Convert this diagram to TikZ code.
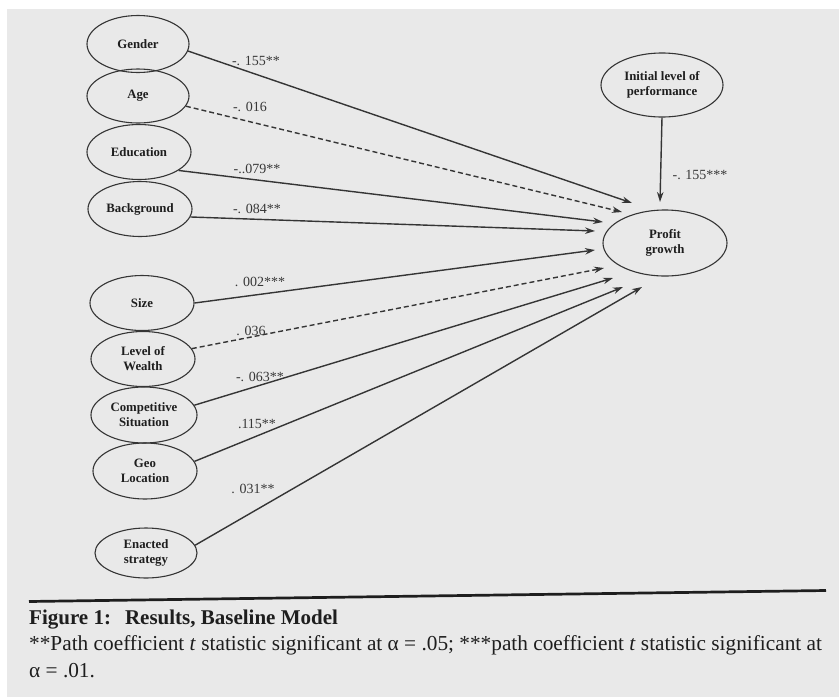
\documentclass[tikz,border=0pt]{standalone}
\usepackage{fontspec}
\setmainfont{Liberation Serif}
\usetikzlibrary{shapes.geometric,arrows.meta}
\definecolor{bgc}{HTML}{E9E9E9}
\definecolor{linec}{HTML}{353535}
\definecolor{txtc}{HTML}{1E1E1E}
\definecolor{labc}{HTML}{383838}
\begin{document}
\begin{tikzpicture}[x=1pt,y=-1pt,
  var/.style={ellipse, draw=linec, line width=1.1pt, inner sep=0pt,
    font=\fontsize{12.8}{15}\selectfont\bfseries, align=center, text=txtc},
  lab/.style={font=\fontsize{14}{16}\selectfont, text=labc, inner sep=0pt},
  pathe/.style={draw=linec, line width=1.4pt, -{Stealth[length=10pt,width=6.5pt]}},
  nse/.style={pathe, dash pattern=on 5pt off 3pt},
  capline/.style={anchor=base west, inner sep=0pt, text=txtc}]
\fill[white] (0,0) rectangle (839,697);
\fill[bgc] (7,9) rectangle (839,697);
\useasboundingbox (0,0) rectangle (839,697);

% left variables
\node[var, minimum width=102pt, minimum height=57pt] (gender) at (138,44) {Gender};
\node[var, minimum width=102pt, minimum height=54pt] (age) at (138,96) {Age};
\node[var, minimum width=104pt, minimum height=55pt] (edu) at (139,152) {Education};
\node[var, minimum width=104pt, minimum height=55pt] (back) at (140,209) {Background};
\node[var, minimum width=104pt, minimum height=55pt] (size) at (142,303) {Size};
\node[var, minimum width=104pt, minimum height=55pt] (wealth) at (143,359) {Level of\\Wealth};
\node[var, minimum width=106pt, minimum height=56pt] (comp) at (144,415) {Competitive\\Situation};
\node[var, minimum width=104pt, minimum height=56pt] (geo) at (145,471) {Geo\\Location};
\node[var, minimum width=102pt, minimum height=50pt] (enact) at (146,553) {Enacted\\strategy};

% right variables
\node[var, minimum width=122pt, minimum height=64pt] (init) at (662,85) {Initial level of\\performance};
\node[var, minimum width=124pt, minimum height=66pt] (profit) at (665,243) {Profit\\growth};

% arrow tips
\coordinate (tG) at (632,203);
\coordinate (tA) at (622,212);
\coordinate (tE) at (603,222);
\coordinate (tB) at (595,231);
\coordinate (tS) at (595,250);
\coordinate (tW) at (604,268);
\coordinate (tC) at (613,278);
\coordinate (tL) at (623,287);
\coordinate (tN) at (642,287);
\coordinate (tP) at (660,202);

\draw[pathe] (gender.-8) -- (tG);
\draw[nse] (age.-12) -- (tA);
\draw[pathe] (edu.-25) -- (tE);
\draw[pathe] (back.-9) -- (tB);
\draw[pathe] (size.0) -- (tS);
\draw[nse] (wealth.12) -- (tW);
\draw[pathe] (comp.11) -- (tC);
\draw[pathe] (geo.11) -- (tL);
\draw[pathe] (enact.9) -- (tN);
\draw[pathe] (init.south) -- (tP);

% coefficients
\node[lab] (lG) at (256,61) {-. 155**};
\node[lab] (lA) at (250,107) {-. 016};
\node[lab] (lE) at (257,169) {-..079**};
\node[lab] (lB) at (257,209) {-. 084**};
\node[lab] (lS) at (260,282) {. 002***};
\node[lab] (lW) at (251,331) {. 036};
\node[lab] (lC) at (260,377) {-. 063**};
\node[lab] (lL) at (257,424) {.115**};
\node[lab] (lN) at (253,489) {. 031**};
\node[lab] (lP) at (700,175) {-. 155***};

% caption
\coordinate (r1) at (29,601.5);
\coordinate (r2) at (826,590.5);
\draw[line width=2.7pt, draw=txtc] (r1) -- (r2);
\node[capline, font=\fontsize{21}{25}\selectfont\bfseries] (c1) at (29,624) {Figure 1:\hspace{14pt}Results, Baseline Model};
\node[capline, font=\fontsize{21.3}{25}\selectfont] (c2) at (29,650) {**Path coefficient \textit{t} statistic significant at α = .05; ***path coefficient \textit{t} statistic significant at};
\node[capline, font=\fontsize{21.3}{25}\selectfont] (c3) at (29,677) {α = .01.};
\end{tikzpicture}
\end{document}
